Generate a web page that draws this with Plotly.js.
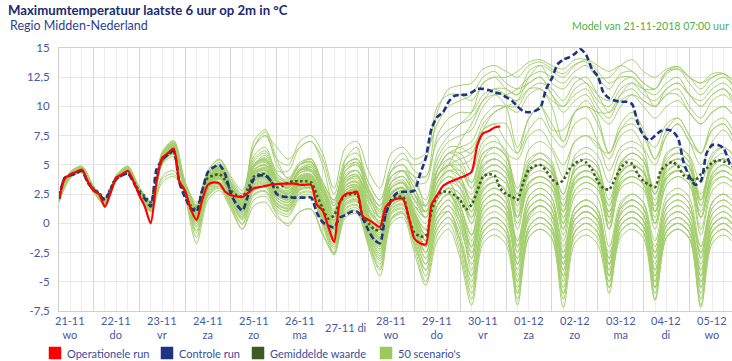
<!DOCTYPE html>
<html><head><meta charset="utf-8">
<script src="https://cdn.plot.ly/plotly-3.0.1.min.js"></script>
<style>html,body{margin:0;padding:0;background:#fff}#chart{width:732px;height:361px}</style>
</head><body><div id="chart"></div>
<script>
// ---------- DATA ----------
const dayDates = ['21-11','22-11','23-11','24-11','25-11','26-11','27-11','28-11','29-11','30-11','01-12','02-12','03-12','04-12','05-12'];
const dayNames = ['wo','do','vr','za','zo','ma','di','wo','do','vr','za','zo','ma','di','wo'];
const yTickVals = [15,12.5,10,7.5,5,2.5,0,-2.5,-5,-7.5];
const yTickText = ['15','12,5','10','7,5','5','2,5','0','-2,5','-5','-7,5'];
const legendNames = ['Operationele run','Controle run','Gemiddelde waarde',"50 scenario's"];

// hours since 21-11-2018 00:00; key runs every 3 h, scenarios every 6 h
const hours3 = []; for (let h = 6; h <= 360; h += 3) hours3.push(h);
const hours6 = []; for (let h = 6; h <= 360; h += 6) hours6.push(h);

const operational = [2.1,3.8,4.2,4.4,4.6,3.6,2.8,2.5,1.4,2.6, 3.9,4.2,4.5,3.6,2.4,1.4,0.0,3.5,5.6,6.0,
 6.4,3.6,2.8,1.2,0.3,2.0,3.3,3.5,3.4,2.7, 2.4,2.3,2.25,2.6,3.0,3.1,3.2,3.3,3.35,3.4,
 3.4,3.4,3.3,3.3,3.3,1.6,1.1,-0.3,-1.6,1.8, 2.5,2.6,2.7,0.6,0.3,0.0,-0.3,1.4,1.9,2.1,
 2.1,0.6,-1.3,-1.7,-1.8,1.6,2.4,3.2,3.5,3.7, 3.9,4.1,4.4,6.7,7.7,7.9,8.2,8.3];

const control = [2.1,3.9,4.1,4.3,4.5,3.5,2.9,2.5,2.0,2.9, 3.8,4.1,4.3,3.5,2.6,2.1,1.45,4.6,5.4,5.9,
 6.2,3.5,2.2,1.3,1.0,2.8,4.4,4.8,5.0,4.2, 2.5,1.6,1.1,2.4,3.8,4.1,4.1,3.6,2.5,2.3,
 2.25,2.2,2.2,2.2,2.2,0.9,0.1,-0.2,-0.35,0.5, 0.7,1.0,1.0,0.4,-0.6,-1.4,-1.7,0.8,2.0,2.6,
 2.7,2.7,2.8,4.2,5.6,8.1,9.1,9.5,10.4,10.9, 11.0,11.0,11.2,11.5,11.5,11.4,11.2,11.1,10.8,10.5,
 10.0,9.6,9.5,9.6,9.9,11.5,12.4,13.6,14.0,14.2, 14.5,14.9,14.4,13.2,12.6,11.2,10.7,10.5,10.4,10.4,
 10.2,8.6,7.5,7.1,7.5,7.9,8.0,7.9,7.3,5.2, 4.0,3.3,3.6,6.0,6.7,6.7,6.4,5.2,4.6];

const ensembleMean = [2.1,3.9,4.1,4.3,4.5,3.6,3.0,2.6,2.1,3.0, 3.9,4.1,4.3,3.6,2.8,2.3,1.8,4.0,5.4,5.9,
 6.1,3.6,2.5,1.5,1.2,2.9,3.9,4.1,4.2,3.7, 2.8,2.4,2.3,3.0,4.0,4.2,4.2,3.6,3.1,3.2,
 3.5,3.6,3.6,3.6,3.5,2.4,1.3,0.4,0.7,1.8, 2.4,2.5,2.5,0.6,0.0,-0.5,-0.6,0.8,2.0,2.2,
 2.3,0.5,-0.8,-1.1,-1.1,1.0,2.4,2.7,2.7,2.4, 2.0,1.2,1.6,2.8,4.0,4.2,4.1,3.0,2.5,2.3,
 2.0,3.5,4.6,4.9,5.0,4.5,3.8,3.4,3.7,4.6, 5.1,5.4,5.2,4.6,3.6,3.0,2.9,3.8,4.7,5.2,
 5.1,4.2,3.6,3.3,3.1,4.5,5.0,5.25,4.9,4.1, 3.8,3.7,4.2,4.7,5.2,5.4,5.3,5.1,5.0];

// 50 scenarios, 6-hourly (4 values per day, 15 days)
const s01 = [2.1,4.3,4.8,3.1, 2.0,4.0,4.7,3.0, 1.8,5.9,6.8,3.4, 1.5,4.2,5.0,3.5, 2.5,6.5,7.5,6.5, 5.5,6.5,7.0,5.5, 2.5,5.5,6.0,3.5, 2.0,5.0,6.0,4.5, 4.0,9.5,11.5,11.8, 12.0,13.2,13.5,13.0, 12.5,13.5,13.8,13.2, 12.8,13.6,13.8,12.5, 11.5,12.8,13.0,12.0, 11.5,12.8,13.2,12.0, 11.0,12.0,12.5,11.5];
const s02 = [2.0,4.1,4.5,2.9, 1.8,3.8,4.5,2.7, 1.6,5.5,6.5,3.1, 1.0,3.8,4.6,3.0, 1.8,5.0,5.8,4.0, 3.5,5.0,5.5,3.2, 1.5,4.5,5.2,2.8, 1.2,4.5,5.5,5.0, 5.5,10.0,11.0,11.0, 10.5,12.0,12.5,11.5, 11.0,13.0,13.5,12.0, 11.5,12.5,12.0,10.5, 10.0,11.5,12.0,11.0, 10.5,11.5,12.0,11.0, 10.0,11.0,11.5,10.0];
const s03 = [2.2,4.4,4.9,3.2, 2.1,4.1,4.9,3.1, 1.9,6.0,7.0,3.5, 1.8,4.5,5.5,4.0, 2.8,6.5,7.5,5.5, 5.0,7.0,7.5,6.0, 3.0,6.5,7.0,4.5, 3.0,6.0,6.5,5.5, 6.0,8.5,10.0,10.5, 11.0,12.5,13.0,12.0, 11.5,12.0,12.5,11.0, 10.0,11.0,11.5,10.0, 9.0,11.0,12.0,11.5, 11.5,13.0,13.4,12.5, 12.0,12.8,12.8,11.5];
const s04 = [1.9,4.0,4.4,2.8, 1.7,3.7,4.4,2.6, 1.4,5.3,6.2,2.9, 0.8,3.5,4.2,2.8, 1.5,4.5,5.0,3.5, 3.0,4.5,5.0,3.0, 1.0,4.0,4.5,2.5, 0.5,3.5,4.5,4.0, 1.5,4.0,5.0,5.0, 5.5,8.0,9.5,10.0, 10.0,11.5,12.0,11.5, 10.5,12.0,12.5,11.0, 9.5,10.5,11.0,10.0, 9.0,10.0,10.5,9.5, 8.5,9.5,10.0,9.0];
const s05 = [2.0,4.2,4.7,3.0, 1.9,3.9,4.6,2.9, 1.6,5.7,6.7,3.2, 1.2,4.0,4.8,3.3, 2.0,7.0,8.0,5.5, 3.8,5.0,5.2,3.5, 2.0,5.0,5.5,3.0, 1.5,4.0,4.5,3.5, 2.0,6.0,7.5,8.5, 9.5,12.0,12.5,12.5, 13.0,13.8,14.0,13.5, 13.2,14.0,14.0,13.0, 12.0,12.5,12.5,11.5, 11.0,12.0,12.5,11.0, 10.0,11.0,11.5,10.5];
const s06 = [2.1,4.2,4.6,3.0, 2.0,3.9,4.5,2.8, 1.7,5.6,6.4,3.0, 1.2,3.8,4.5,3.0, 1.6,4.6,5.0,3.6, 3.2,4.5,4.8,3.0, 1.0,4.0,4.5,2.5, 0.5,3.0,3.5,2.5, 1.5,5.5,7.0,7.5, 8.0,10.0,11.0,11.0, 11.5,12.5,13.0,12.5, 12.0,13.0,13.5,12.5, 12.5,13.5,14.0,13.0, 12.5,13.2,13.4,12.5, 11.5,12.5,12.8,12.0];
const s07 = [2.0,4.1,4.6,3.0, 1.8,3.8,4.6,2.8, 1.5,5.4,6.3,2.9, 0.9,3.6,4.4,2.9, 1.4,4.2,4.8,3.5, 3.0,4.3,4.5,2.5, 0.5,3.5,4.0,2.0, 0.0,3.0,3.5,2.0, 0.5,4.5,6.0,6.5, 7.0,9.0,10.0,10.0, 9.5,11.0,11.5,10.5, 10.0,11.5,12.0,11.0, 10.5,12.0,12.5,11.5, 10.0,11.0,11.5,10.0, 9.0,10.5,11.0,10.0];
const s08 = [2.2,4.3,4.8,3.1, 2.0,4.0,4.8,3.0, 1.8,5.8,6.6,3.3, 1.4,4.0,4.7,3.2, 2.0,5.0,5.5,4.0, 3.5,5.0,5.5,3.5, 2.0,5.0,5.5,3.5, 2.0,4.5,5.0,4.0, 4.0,7.0,8.0,8.5, 9.0,10.5,11.0,10.0, 6.5,9.0,10.0,8.5, 7.0,9.5,10.5,9.0, 6.0,8.5,9.5,8.0, 5.5,8.0,9.0,7.5, 6.0,8.5,9.0,7.5];
const s09 = [2.0,4.2,4.6,2.9, 1.9,3.9,4.6,2.8, 1.6,5.6,6.5,3.1, 1.1,3.8,4.5,3.0, 1.7,4.8,5.3,3.8, 3.3,4.7,5.0,3.0, 1.5,4.5,5.0,3.0, 1.0,4.0,4.5,3.0, 1.0,3.5,5.0,7.0, 8.5,10.5,11.5,11.5, 11.0,12.0,12.5,11.0, 9.5,10.5,11.0,9.5, 8.5,10.0,11.0,10.5, 10.0,11.0,11.0,9.5, 8.5,9.5,10.0,9.0];
const s10 = [2.1,4.3,4.7,3.0, 2.0,4.0,4.7,2.9, 1.7,5.8,6.7,3.3, 1.3,4.1,4.9,3.4, 2.1,6.5,7.8,5.0, 3.9,5.2,5.5,3.5, 2.0,5.0,5.5,3.0, 1.5,4.0,4.5,3.0, 1.5,4.0,5.0,5.5, 6.0,8.5,9.5,10.0, 10.5,12.5,13.5,13.0, 12.5,13.5,14.0,13.5, 13.0,13.5,13.0,12.0, 11.5,13.0,13.2,12.5, 12.0,12.5,12.8,12.0];
const s11 = [1.9,4.1,4.5,2.9, 1.8,3.8,4.5,2.7, 1.5,5.5,6.4,3.0, 1.0,3.7,4.5,3.0, 1.5,4.5,5.0,3.5, 3.0,4.5,4.8,2.8, 1.0,4.0,4.5,2.5, 0.5,3.5,4.0,2.5, 0.5,4.0,5.5,6.0, 6.5,8.0,8.5,8.5, 6.0,9.0,10.0,8.0, 8.0,9.5,10.0,9.5, 9.5,11.0,11.5,10.5, 10.0,11.5,12.0,11.0, 10.5,11.5,12.0,11.0];
const s12 = [2.0,4.2,4.7,3.0, 1.9,3.9,4.7,2.9, 1.7,5.7,6.6,3.2, 1.3,4.0,4.8,3.3, 2.0,5.3,6.0,4.2, 3.7,5.0,5.3,3.2, 1.8,4.8,5.2,3.0, 1.5,4.5,5.0,3.5, 3.5,7.5,9.0,9.5, 9.5,11.0,11.5,11.0, 10.5,11.5,11.5,10.0, 7.0,9.5,10.0,8.5, 6.0,8.0,9.0,7.5, 5.5,7.5,8.5,7.0, 5.0,7.0,8.0,6.5];
const s13 = [2.0,4.2,4.6,3.0, 1.9,3.9,4.6,2.8, 1.5,5.6,6.5,3.0, 0.8,3.5,4.3,2.8, 1.5,4.2,4.5,3.0, 2.5,3.8,4.0,2.0, 0.0,3.0,3.2,0.5, -0.8,2.5,3.0,1.0, -1.0,3.0,4.5,4.0, 1.5,5.5,6.5,5.8, 2.0,5.2,6.0,5.3, 1.0,4.8,5.5,4.8, 0.5,5.2,6.0,5.3, 1.5,4.8,5.5,4.8, 0.5,4.2,5.0,4.3];
const s14 = [1.9,4.0,4.5,2.8, 1.7,3.7,4.4,2.6, 1.2,5.2,6.0,2.6, 0.2,3.0,3.8,2.3, 1.0,3.8,4.2,2.5, 2.0,3.5,3.6,1.5, -0.5,2.5,2.8,0.2, -1.2,2.0,2.5,0.5, -1.5,2.5,3.5,3.0, 1.0,4.8,5.5,4.8, 2.5,6.3,7.0,6.2, 4.0,7.0,7.5,6.8, 4.5,6.5,7.0,6.3, 1.0,4.3,5.0,4.3, 0.5,3.8,4.5,3.8];
const s15 = [2.1,4.3,4.7,3.1, 2.0,4.0,4.7,3.0, 1.7,5.8,6.8,3.3, 1.3,4.0,4.8,3.2, 2.0,5.0,5.5,3.8, 3.0,4.5,4.5,2.5, 0.5,3.5,3.8,1.0, 0.0,3.0,3.5,1.5, 0.5,4.0,5.0,4.5, 3.0,6.0,6.5,5.8, 3.0,5.5,6.0,5.0, 0.0,3.8,4.5,3.8, 0.0,5.0,6.0,5.3, 3.0,6.0,6.5,5.6, 2.0,5.3,6.0,5.2];
const s16 = [2.0,4.1,4.5,2.9, 1.8,3.8,4.5,2.7, 1.4,5.4,6.3,2.8, 0.5,3.3,4.0,2.5, 1.2,3.8,4.0,2.6, 2.2,3.5,3.5,1.5, -0.8,2.5,2.8,0.0, -1.5,2.0,2.5,0.5, -1.5,2.0,3.0,2.5, 0.5,3.8,4.5,3.8, 0.5,4.3,5.0,4.3, 1.5,4.5,5.0,4.2, -0.5,3.3,4.0,3.3, 0.0,3.8,4.5,3.8, 1.0,4.3,5.0,4.3];
const s17 = [2.2,4.4,4.8,3.2, 2.1,4.1,4.8,3.1, 1.9,6.1,7.1,3.6, 1.6,4.5,5.4,3.8, 2.5,5.8,6.5,4.5, 4.5,6.5,7.0,5.0, 1.5,4.5,5.0,2.5, 1.0,4.0,4.5,2.5, 1.0,4.5,6.0,5.5, 3.5,6.5,7.0,6.2, 2.5,5.0,5.5,4.6, -0.5,3.3,4.0,3.3, -0.5,3.8,4.5,3.8, 1.0,5.2,6.0,5.2, 2.0,5.7,6.5,5.6];
const s18 = [1.9,4.1,4.5,2.9, 1.8,3.8,4.5,2.7, 1.3,5.3,6.1,2.7, 0.3,3.2,4.0,2.4, 1.0,3.5,3.8,2.2, 1.8,3.2,3.3,1.0, -1.2,2.0,2.3,-0.5, -2.0,1.5,2.0,0.0, -2.5,1.5,2.5,2.0, 0.5,4.3,5.0,4.3, 1.5,5.0,5.5,4.8, 1.5,4.5,5.0,4.3, 0.5,4.3,5.0,4.3, 1.0,4.0,4.5,3.8, -0.5,3.3,4.0,3.3];
const s19 = [2.0,4.2,4.7,3.0, 1.9,3.9,4.6,2.9, 1.6,5.7,6.6,3.2, 1.1,3.8,4.6,3.1, 1.8,4.8,5.2,3.5, 3.0,4.3,4.4,2.5, 0.5,5.5,6.5,1.2, 0.0,3.0,3.5,2.0, 1.5,5.0,6.5,6.5, 6.0,8.0,8.5,7.0, 6.0,8.0,9.0,7.5, 6.5,8.5,9.0,7.0, 5.5,7.5,8.0,6.5, 5.0,7.5,8.5,7.0, 6.0,8.0,8.5,7.0];
const s20 = [2.1,4.2,4.6,3.0, 2.0,3.9,4.6,2.8, 1.6,5.6,6.5,3.1, 1.0,3.7,4.5,3.0, 1.6,4.4,4.7,3.2, 2.8,4.0,4.1,2.2, 0.2,3.2,3.5,0.8, -0.5,2.5,3.0,1.0, -0.5,3.5,4.5,3.5, 1.0,4.0,4.5,3.8, -0.5,3.3,4.0,3.4, 1.0,4.8,5.5,4.8, 2.0,5.0,5.5,4.7, 0.0,3.3,4.0,3.3, -1.0,2.8,3.5,2.8];
const s21 = [1.8,4.0,4.4,2.8, 1.7,3.7,4.4,2.6, 1.3,5.2,6.0,2.6, 0.4,3.2,3.9,2.4, 1.1,3.7,4.0,2.4, 2.0,3.4,3.5,1.2, -1.0,2.2,2.5,-0.2, -1.8,1.8,2.2,0.2, -2.0,2.0,3.0,2.5, 0.0,3.3,4.0,3.4, 0.5,3.5,4.0,3.3, 0.0,3.8,4.5,3.9, 1.5,5.2,6.0,5.3, 2.5,5.5,6.0,5.2, 1.5,4.8,5.5,4.7];
const s22 = [2.1,4.3,4.8,3.1, 2.0,4.1,4.8,3.0, 1.8,5.9,6.9,3.4, 1.5,4.3,5.2,3.6, 2.3,5.5,6.2,4.3, 3.5,5.0,5.2,3.2, 1.2,4.2,4.5,2.2, 0.8,3.5,4.0,2.5, 1.5,4.0,5.0,4.0, 2.0,4.5,5.0,4.3, 1.0,4.3,5.0,4.3, 2.0,4.5,5.0,4.2, 1.0,3.5,4.0,3.3, 0.0,3.8,4.5,3.9, 2.0,5.0,5.5,4.8];
const s23 = [2.0,4.1,4.6,2.9, 1.8,3.8,4.5,2.8, 1.5,5.5,6.4,3.0, 0.7,3.5,4.2,2.7, 1.3,4.0,4.3,2.8, 2.3,3.7,3.8,1.8, -0.3,2.8,3.0,0.3, -1.0,2.2,2.8,0.8, -1.0,3.0,4.0,3.5, 2.0,5.0,5.5,4.7, 0.5,4.3,5.0,4.4, 2.5,5.5,6.0,5.1, 0.5,3.8,4.5,3.8, 0.5,4.8,5.5,4.8, 2.5,5.0,5.5,4.8];
const s24 = [1.9,4.0,4.5,2.8, 1.8,3.8,4.5,2.7, 1.4,5.4,6.2,2.8, 0.5,3.3,4.1,2.6, 1.2,3.9,4.2,2.7, 2.2,3.6,3.7,1.7, -0.5,2.6,2.9,0.2, -1.2,2.0,2.6,0.6, -1.0,2.5,3.5,3.5, 2.5,5.5,6.0,5.2, 2.0,4.5,5.0,4.3, 0.5,3.5,4.0,3.3, 0.0,3.0,3.5,2.9, -0.5,3.3,4.0,3.3, 0.5,4.0,4.5,3.8];
const s25 = [2.2,4.3,4.7,3.1, 2.0,4.0,4.7,3.0, 1.8,5.8,6.7,3.3, 1.2,4.0,4.8,3.3, 2.0,5.0,5.6,3.8, 3.2,4.6,4.8,2.8, 0.8,3.8,4.2,1.8, 0.5,3.5,4.0,2.5, 1.0,3.5,4.5,4.5, 3.5,6.0,6.5,5.7, 2.0,4.8,5.5,4.8, 2.5,5.8,6.5,5.8, 3.5,6.0,6.5,5.7, 2.5,5.0,5.5,4.8, 1.5,4.8,5.5,4.8];
const s26 = [2.0,4.2,4.6,3.0, 1.9,3.9,4.6,2.8, 1.5,5.6,6.5,3.0, 0.9,3.6,4.4,2.9, 1.5,4.3,4.6,3.1, 2.6,3.9,4.0,2.1, 0.2,3.0,3.3,0.6, -0.5,2.5,3.0,1.2, 0.0,3.0,4.0,3.0, 0.5,3.5,4.0,3.4, 0.5,3.0,3.5,2.9, -0.5,2.8,3.5,2.9, -0.5,3.3,4.0,3.4, 1.0,4.0,4.5,3.8, 0.5,3.8,4.5,3.8];
const s27 = [1.9,4.1,4.5,2.9, 1.8,3.8,4.5,2.7, 1.4,5.4,6.3,2.9, 0.6,3.4,4.2,2.7, 1.3,4.1,4.5,2.9, 2.5,3.8,3.9,1.9, -0.2,2.8,3.1,0.4, -0.8,2.3,2.8,1.5, 1.0,4.5,6.0,6.0, 4.5,7.0,7.5,6.0, 5.5,7.5,8.0,6.5, 5.0,7.0,7.5,6.5, 6.0,8.0,8.5,7.5, 6.5,8.5,9.0,7.5, 6.0,8.0,8.5,7.0];
const s28 = [2.1,4.3,4.7,3.0, 2.0,4.0,4.6,2.9, 1.7,5.7,6.6,3.2, 1.2,3.9,4.7,3.2, 1.9,4.9,5.4,3.7, 3.1,4.5,4.6,2.6, 0.6,3.6,4.0,1.4, 0.2,3.2,3.7,2.0, 1.0,4.0,5.0,4.0, 1.5,4.0,4.5,3.8, 0.0,3.0,3.5,2.9, -1.0,2.8,3.5,2.9, 1.0,4.3,5.0,4.4, 2.0,4.5,5.0,4.3, 0.5,3.5,4.0,3.4];
const s29 = [2.0,4.1,4.6,2.9, 1.8,3.8,4.5,2.8, 1.5,5.5,6.4,3.0, 0.8,3.5,4.3,2.8, 1.4,4.2,4.5,3.0, 2.5,3.9,4.0,2.0, 0.0,3.0,3.3,0.6, -0.6,2.6,3.0,1.5, 0.5,4.5,5.5,5.0, 3.0,5.0,5.5,4.8, 1.5,4.0,4.5,3.8, 0.5,3.5,4.0,3.4, 1.0,4.3,5.0,4.4, 2.5,5.8,6.5,5.8, 3.5,6.0,6.5,5.7];
const s30 = [1.9,4.0,4.4,2.8, 1.7,3.7,4.4,2.6, 1.2,5.1,5.9,2.6, 0.2,3.0,3.8,2.2, 0.8,3.3,3.6,2.0, 1.5,3.0,3.1,0.8, -1.5,1.8,2.1,-0.6, -2.2,1.5,2.0,0.0, -2.0,1.5,2.5,2.0, 0.0,3.0,3.5,2.9, 0.5,3.5,4.0,3.4, 1.0,4.0,4.5,3.9, 1.5,4.5,5.0,4.3, 1.5,4.8,5.5,4.8, 2.0,5.0,5.5,4.8];
const s31 = [2.0,4.1,4.5,2.9, 1.8,3.8,4.5,2.7, 1.3,5.3,6.1,2.7, 0.0,2.8,3.5,2.0, 0.5,3.0,3.3,1.8, 1.2,2.8,2.9,0.5, -1.8,1.5,1.8,-1.0, -2.8,1.0,1.5,-0.5, -3.0,0.5,1.5,0.0, -4.0,0.8,1.5,0.8, -4.5,0.5,1.5,0.6, -5.0,0.3,1.0,0.2, -4.5,0.8,1.5,0.7, -5.0,0.3,1.0,0.2, -5.5,-0.2,0.5,-0.3];
const s32 = [1.9,4.0,4.4,2.8, 1.7,3.7,4.4,2.6, 1.1,3.5,4.0,2.5, -0.3,2.6,3.3,1.8, 0.3,2.8,3.1,1.5, 1.0,2.5,2.6,0.2, -2.2,1.2,1.5,-1.3, -3.2,0.8,1.2,-1.0, -3.5,0.5,1.0,-1.5, -5.0,-0.2,0.5,-0.3, -6.0,-0.3,0.5,-0.4, -6.5,-0.8,0.0,-0.8, -5.0,-0.2,0.5,-0.3, -5.5,-0.7,0.0,-0.8, -6.5,-1.2,-0.5,-1.3];
const s33 = [2.1,4.2,4.6,3.0, 1.9,3.9,4.6,2.8, 1.4,5.5,6.3,2.9, 0.3,3.2,4.0,2.4, 1.0,3.6,3.9,2.2, 1.8,3.3,3.4,1.2, -1.0,2.2,2.5,-0.3, -1.8,1.8,2.2,0.0, -2.0,2.0,3.0,1.0, -2.0,1.8,2.5,1.7, -2.5,1.3,2.0,1.2, -3.0,0.8,1.5,0.7, -3.5,1.0,2.0,1.3, -2.5,1.8,2.5,1.7, -3.0,1.3,2.0,1.2];
const s34 = [2.0,4.1,4.6,2.9, 1.8,3.8,4.5,2.7, 1.2,5.2,6.0,2.6, -1.2,2.5,3.2,1.6, 0.0,2.5,2.8,1.2, 0.8,2.3,2.4,0.0, -2.5,1.0,1.3,-1.5, -3.5,0.5,1.0,-1.5, -4.5,-0.5,0.5,-2.0, -6.0,-0.8,0.0,-0.8, -7.0,-1.2,-0.5,-1.3, -6.0,-0.7,0.0,-0.8, -5.5,-0.7,0.0,-0.8, -6.5,-1.2,-0.5,-1.3, -7.0,-1.2,-0.5,-1.3];
const s35 = [2.1,4.3,4.7,3.0, 2.0,4.0,4.7,2.9, 1.6,5.7,6.6,3.1, 0.8,3.6,4.4,2.8, 1.5,4.2,4.5,2.9, 2.5,3.8,3.9,1.8, -0.2,2.8,3.1,0.2, -1.0,2.2,2.6,0.5, -1.5,2.0,3.0,1.5, -1.0,2.8,3.5,2.7, -1.5,2.3,3.0,2.2, -2.5,1.3,2.0,1.2, -3.0,1.5,2.5,1.8, -1.5,2.3,3.0,2.2, -2.0,1.8,2.5,1.7];
const s36 = [1.9,4.0,4.5,2.8, 1.8,3.8,4.4,2.6, 1.0,4.0,4.5,2.4, -0.8,2.3,3.0,1.4, -0.5,1.5,1.8,0.5, 0.0,1.0,1.2,-0.8, -2.7,0.8,1.0,-1.8, -4.0,0.3,0.8,-2.0, -5.0,-1.0,0.0,-2.5, -6.5,-1.2,-0.5,-1.3, -6.0,-0.7,0.0,-0.7, -4.5,-0.2,0.5,-0.3, -6.0,-0.7,0.0,-0.8, -6.0,-1.2,-0.5,-1.3, -5.0,-0.7,0.0,-0.8];
const s37 = [2.0,4.2,4.6,3.0, 1.9,3.9,4.6,2.8, 1.5,5.6,6.5,3.0, 0.6,3.4,4.2,2.6, 1.2,3.9,4.2,2.6, 2.1,3.6,3.7,1.5, -0.6,2.5,2.8,0.0, -1.4,1.9,2.3,0.2, -2.0,1.5,2.5,1.0, -2.5,1.3,2.0,1.2, -3.5,0.8,1.5,0.7, -2.5,1.3,2.0,1.2, -3.0,0.8,1.5,0.7, -4.0,0.3,1.0,0.2, -3.5,0.8,1.5,0.7];
const s38 = [2.2,4.3,4.8,3.1, 2.0,4.0,4.7,3.0, 1.7,5.8,6.8,3.3, 1.0,3.8,4.6,3.0, 1.6,4.4,4.7,3.0, 2.7,4.0,4.1,2.0, 0.2,3.2,3.5,0.6, -0.4,2.6,3.0,0.8, -1.0,2.5,3.5,1.5, -1.5,2.3,3.0,2.2, -2.0,1.8,2.5,1.7, -3.5,0.3,1.0,0.2, -4.5,-0.2,0.5,-0.3, -4.5,-0.2,0.5,-0.3, -4.0,0.3,1.0,0.2];
const s39 = [1.8,3.9,4.3,2.7, 1.6,3.6,4.3,2.5, 1.0,5.0,5.7,2.3, -1.7,2.0,2.8,1.2, -0.5,2.0,2.3,0.8, -0.2,1.0,1.2,-1.0, -2.5,0.5,0.8,-2.0, -4.5,0.0,0.5,-2.5, -5.3,-1.5,-0.5,-3.0, -7.0,-1.7,-1.0,-1.8, -6.5,-1.2,-0.5,-1.3, -7.2,-1.7,-1.0,-1.8, -5.5,-1.2,-0.5,-1.3, -6.6,-1.2,-0.5,-1.3, -7.2,-1.7,-1.0,-1.8];
const s40 = [2.0,4.1,4.5,2.9, 1.8,3.8,4.5,2.7, 1.4,5.4,6.2,2.8, 0.4,3.2,3.9,2.3, 0.9,3.4,3.7,2.0, 1.6,3.1,3.2,0.9, -1.2,2.0,2.3,-0.6, -2.2,1.5,1.9,-0.5, -3.0,0.5,1.5,-0.5, -3.0,1.3,2.0,1.2, -4.0,0.3,1.0,0.2, -4.5,-0.2,0.5,-0.3, -3.5,0.8,1.5,0.7, -3.0,1.3,2.0,1.2, -2.5,1.8,2.5,1.7];
const s41 = [2.1,4.2,4.7,3.0, 2.0,4.0,4.6,2.9, 1.6,5.6,6.5,3.1, 0.7,3.5,4.3,2.8, 1.3,4.0,4.3,2.7, 2.3,3.7,3.8,1.6, -0.4,2.6,2.9,0.1, -1.2,2.0,2.5,0.3, -1.5,1.5,2.5,1.0, -2.0,1.8,2.5,1.7, -2.5,1.3,2.0,1.2, -4.0,0.3,1.0,0.2, -3.0,1.3,2.0,1.2, -2.0,1.8,2.5,1.7, -3.0,0.8,1.5,0.7];
const s42 = [1.9,4.0,4.4,2.8, 1.7,3.7,4.4,2.6, 1.2,5.2,6.0,2.6, 0.0,2.9,3.6,2.0, 0.6,3.1,3.4,1.6, 1.3,2.9,3.0,0.6, -1.6,1.6,1.9,-0.9, -2.6,1.2,1.6,-0.8, -3.5,0.0,1.0,-1.0, -4.5,-0.2,0.5,-0.3, -5.0,-0.3,0.5,-0.3, -4.0,0.3,1.0,0.2, -4.0,0.3,1.0,0.2, -5.0,-0.7,0.0,-0.8, -4.5,-0.2,0.5,-0.3];
const s43 = [2.0,4.2,4.6,2.9, 1.9,3.9,4.6,2.8, 1.5,5.5,6.4,3.0, 0.5,3.3,4.1,2.5, 1.1,3.7,4.0,2.4, 2.0,3.5,3.6,1.4, -0.8,2.3,2.6,-0.2, -1.6,1.8,2.2,0.0, -2.0,1.0,2.0,0.5, -2.0,1.8,2.5,1.7, -1.5,2.3,3.0,2.2, -2.0,1.3,2.0,1.2, -3.5,0.3,1.0,0.2, -3.5,0.8,1.5,0.7, -2.5,1.3,2.0,1.2];
const s44 = [2.1,4.3,4.7,3.1, 2.0,4.0,4.7,2.9, 1.7,5.7,6.6,3.2, 1.1,3.9,4.7,3.1, 1.7,4.6,4.9,3.2, 2.8,4.1,4.2,2.1, 0.3,3.3,3.6,0.7, -0.3,2.7,3.1,0.5, -1.5,1.5,2.5,0.5, -2.5,0.8,1.5,0.7, -3.0,0.8,1.5,0.7, -3.5,0.3,1.0,0.2, -2.5,1.3,2.0,1.2, -3.0,0.8,1.5,0.7, -4.0,0.3,1.0,0.2];
const s45 = [1.8,3.9,4.4,2.7, 1.6,3.6,4.3,2.5, 1.1,3.8,4.2,2.4, -0.6,2.4,3.1,1.5, -0.1,2.4,2.7,1.0, 0.6,2.1,2.2,-0.2, -2.6,0.9,1.1,-1.6, -3.8,0.4,0.9,-1.8, -4.0,-0.5,0.5,-1.5, -5.5,-0.7,0.0,-0.8, -5.5,-0.7,0.0,-0.8, -6.0,-1.2,-0.5,-1.3, -5.0,-0.7,0.0,-0.8, -5.5,-0.7,0.0,-0.8, -6.0,-1.2,-0.5,-1.3];
const s46 = [2.0,4.1,4.6,2.9, 1.8,3.8,4.5,2.7, 1.4,5.4,6.3,2.8, 0.2,3.0,3.8,2.2, 0.7,3.2,3.5,1.7, 1.4,2.9,3.0,0.7, -1.4,1.7,2.0,-0.8, -2.4,1.3,1.7,-0.6, -2.5,1.0,2.0,0.0, -3.5,0.3,1.0,0.2, -3.0,0.8,1.5,0.7, -3.0,0.8,1.5,0.7, -4.0,0.3,1.0,0.2, -4.5,-0.2,0.5,-0.3, -5.0,-0.7,0.0,-0.8];
const s47 = [2.1,4.2,4.6,3.0, 1.9,3.9,4.6,2.8, 1.6,5.6,6.4,3.0, 0.6,3.4,4.2,2.7, 1.2,3.9,4.2,2.5, 2.2,3.6,3.7,1.5, -0.5,2.5,2.8,0.0, -1.3,2.0,2.4,0.2, -1.0,2.5,3.5,1.5, -1.0,2.8,3.5,2.7, -2.0,1.8,2.5,1.7, -1.5,2.3,3.0,2.2, -2.0,1.8,2.5,1.7, -2.5,1.3,2.0,1.2, -2.0,1.8,2.5,1.7];
const s48 = [1.9,4.0,4.5,2.8, 1.7,3.7,4.4,2.6, 1.2,5.2,6.0,2.5, -0.2,2.7,3.4,1.8, 0.4,2.8,3.1,1.4, 1.1,2.6,2.7,0.3, -2.0,1.3,1.6,-1.2, -3.0,0.9,1.3,-1.2, -4.0,0.0,1.0,-1.5, -4.5,-0.2,0.5,-0.3, -5.0,-0.3,0.5,-0.3, -5.5,-0.7,0.0,-0.8, -4.5,-0.2,0.5,-0.3, -4.0,0.3,1.0,0.2, -4.5,-0.2,0.5,-0.3];
const s49 = [2.0,4.2,4.6,3.0, 1.9,3.9,4.6,2.8, 1.5,5.5,6.4,2.9, 0.4,3.3,4.1,2.5, 1.0,3.6,3.9,2.2, 1.8,3.3,3.4,1.1, -1.0,2.1,2.4,-0.4, -1.9,1.7,2.1,-0.2, -2.5,1.5,2.5,0.5, -3.0,1.3,2.0,1.2, -3.5,0.8,1.5,0.7, -3.5,0.8,1.5,0.7, -4.5,-0.2,0.5,-0.3, -5.5,-0.7,0.0,-0.8, -5.5,-0.7,0.0,-0.8];
const s50 = [2.2,4.4,4.8,3.2, 2.1,4.1,4.8,3.1, 1.8,5.9,6.9,3.4, 1.4,4.2,5.0,3.4, 2.1,5.0,5.4,3.6, 3.2,4.5,4.6,2.5, 0.8,3.8,4.1,1.2, 0.2,3.0,3.4,0.8, -0.5,2.5,3.5,1.5, -1.0,2.3,3.0,2.2, -2.0,1.3,2.0,1.2, -3.0,0.8,1.5,0.7, -3.5,0.3,1.0,0.2, -4.0,-0.2,0.5,-0.3, -4.5,-0.2,0.5,-0.3];
const scenarios = [s01,s02,s03,s04,s05,s06,s07,s08,s09,s10,s11,s12,s13,s14,s15,s16,s17,s18,s19,s20,s21,s22,s23,s24,s25,
  s26,s27,s28,s29,s30,s31,s32,s33,s34,s35,s36,s37,s38,s39,s40,s41,s42,s43,s44,s45,s46,s47,s48,s49,s50];

// ---------- STYLE ----------
const C_RED = '#ff0000', C_BLUE = '#1f3286', C_MEAN = '#3e5b25', C_ENS = '#a5cf6e';
const FONT = 'Lato, "Open Sans", sans-serif';
const TXT = '#4658a3';

const traces = [];
scenarios.forEach(s => traces.push({
  x: hours6.slice(0, s.length), y: s, type: 'scatter', mode: 'lines',
  line: {color: C_ENS, width: 1, shape: 'spline', smoothing: 0.9}, hoverinfo: 'skip'
}));
traces.push({x: hours3.slice(0, ensembleMean.length), y: ensembleMean, type: 'scatter', mode: 'lines',
  line: {color: C_MEAN, width: 2.6, dash: '2.5px,2.5px', shape: 'spline', smoothing: 0.7}, hoverinfo: 'skip'});
traces.push({x: hours3.slice(0, control.length), y: control, type: 'scatter', mode: 'lines',
  line: {color: C_BLUE, width: 2.6, dash: '6px,3px', shape: 'spline', smoothing: 0.7}, hoverinfo: 'skip'});
traces.push({x: hours3.slice(0, operational.length), y: operational, type: 'scatter', mode: 'lines',
  line: {color: C_RED, width: 2.2, shape: 'spline', smoothing: 0.7}, hoverinfo: 'skip'});

// geometry helpers (plot area: x 59..732, y 48..311)
const PL = 59, PW = 673, PB = 311, PH = 263;
const px2x = p => (p - PL) / PW;
const px2y = p => (PB - p) / PH;

const annotations = [];
dayDates.forEach((d, i) => {
  const xh = 12 + 24 * i;
  const single = (i === 6);
  annotations.push({x: xh, xref: 'x', y: 0, yref: 'paper', yshift: -16, yanchor: 'middle', xanchor: 'center',
    text: single ? d + ' ' + dayNames[i] : d + '<br>' + dayNames[i], showarrow: false,
    font: {family: FONT, size: 11, color: TXT}});
});
annotations.push({x: px2x(8), xref: 'paper', y: px2y(26), yref: 'paper', xanchor: 'left', yanchor: 'middle',
  text: 'Regio Midden-Nederland', showarrow: false, font: {family: FONT, size: 12.5, color: '#2f3f91'}});
annotations.push({x: px2x(731), xref: 'paper', y: px2y(26), yref: 'paper', xanchor: 'right', yanchor: 'middle',
  text: 'Model van 21-11-2018 07:00 uur', showarrow: false, font: {family: FONT, size: 10.6, color: '#4db14a'}});

const legendColors = [C_RED, C_BLUE, C_MEAN, '#9bc95c'];
const legendPx = [49, 161, 252, 380];
const shapes = [];
legendNames.forEach((n, i) => {
  shapes.push({type: 'rect', xref: 'paper', yref: 'paper', x0: px2x(legendPx[i]), x1: px2x(legendPx[i] + 12),
    y0: px2y(347), y1: px2y(359), fillcolor: legendColors[i], line: {width: 0.5, color: legendColors[i]}});
  annotations.push({x: px2x(legendPx[i] + 16), xref: 'paper', y: px2y(353), yref: 'paper', xanchor: 'left', yanchor: 'middle',
    text: n, showarrow: false, font: {family: FONT, size: 11, color: '#3b4c9b'}});
});

const layout = {
  width: 732, height: 361,
  margin: {l: PL, r: 0, t: 48, b: 50, pad: 0},
  paper_bgcolor: '#ffffff', plot_bgcolor: '#ffffff',
  showlegend: false,
  font: {family: FONT, color: TXT, size: 11.5},
  title: {text: '<b>Maximumtemperatuur laatste 6 uur op 2m in °C</b>', x: 8 / 732, xref: 'container', xanchor: 'left',
    y: 1 - 10 / 361, yref: 'container', yanchor: 'middle', font: {family: FONT, size: 13.2, color: '#1c2a6e'}},
  xaxis: {range: [6, 358.3], tickmode: 'linear', tick0: 0, dtick: 24, showticklabels: false, ticks: '',
    showgrid: true, gridcolor: '#d6d6d6', gridwidth: 1, zeroline: false,
    showline: true, linecolor: '#cfcfcf', linewidth: 1, mirror: true,
    minor: {tickmode: 'linear', tick0: 0, dtick: 6, showgrid: true, gridcolor: '#ececec', gridwidth: 1, ticks: ''}},
  yaxis: {range: [-7.5, 15], tickmode: 'array', tickvals: yTickVals, ticktext: yTickText, ticks: '',
    showgrid: true, gridcolor: '#e6e6e6', gridwidth: 1, zeroline: false,
    showline: true, linecolor: '#cfcfcf', linewidth: 1, ticklabelstandoff: 6,
    tickfont: {family: FONT, size: 11.5, color: TXT}},
  annotations: annotations,
  shapes: shapes
};

Plotly.newPlot('chart', traces, layout, {staticPlot: true, displayModeBar: false});
</script>
</body></html>
